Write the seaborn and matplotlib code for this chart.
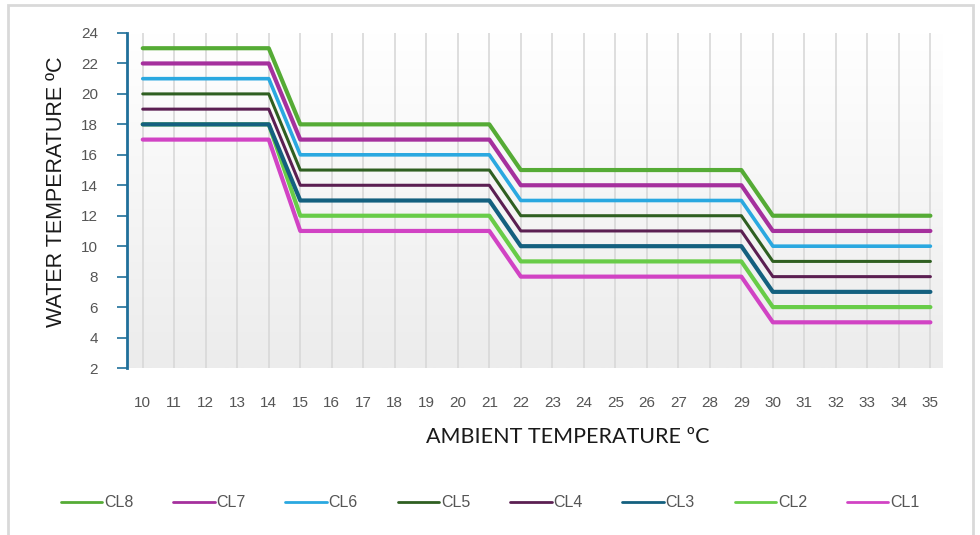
import numpy as np
import pandas as pd
import matplotlib
matplotlib.use("Agg")
import matplotlib.pyplot as plt
from matplotlib.patches import Rectangle
import seaborn as sns

ambient = [str(t) for t in range(10, 36)]
series_names = ["CL8", "CL7", "CL6", "CL5", "CL4", "CL3", "CL2", "CL1"]
# (value for 10-14, 15-21, 22-29, 30-35)
CL8 = [23] * 5 + [18] * 7 + [15] * 8 + [12] * 6
CL7 = [22] * 5 + [17] * 7 + [14] * 8 + [11] * 6
CL6 = [21] * 5 + [16] * 7 + [13] * 8 + [10] * 6
CL5 = [20] * 5 + [15] * 7 + [12] * 8 + [9] * 6
CL4 = [19] * 5 + [14] * 7 + [11] * 8 + [8] * 6
CL3 = [18] * 5 + [13] * 7 + [10] * 8 + [7] * 6
CL2 = [18] * 5 + [12] * 7 + [9] * 8 + [6] * 6
CL1 = [17] * 5 + [11] * 7 + [8] * 8 + [5] * 6
values = {"CL8": CL8, "CL7": CL7, "CL6": CL6, "CL5": CL5,
          "CL4": CL4, "CL3": CL3, "CL2": CL2, "CL1": CL1}
y_ticks = list(range(2, 25, 2))

colors = {"CL8": "#55ab35", "CL7": "#a5309d", "CL6": "#2aa8e0", "CL5": "#2f5f21",
          "CL4": "#5b1f52", "CL3": "#14607f", "CL2": "#68cc48", "CL1": "#d143c4"}
widths = {"CL8": 3.0, "CL7": 3.0, "CL6": 2.6, "CL5": 2.2, "CL4": 2.2,
          "CL3": 3.0, "CL2": 3.0, "CL1": 3.0}
zorders = {"CL8": 3, "CL7": 4, "CL6": 5, "CL5": 6, "CL4": 7, "CL3": 10, "CL2": 8, "CL1": 9}

sns.set_theme(style="white")
plt.rcParams["font.family"] = ["Liberation Sans", "DejaVu Sans"]

fig = plt.figure(figsize=(9.8, 5.35), dpi=100)
ax = fig.add_axes([127 / 980, 1 - 368 / 535, (943 - 127) / 980, (368 - 33) / 535])

# gradient background
grad = np.linspace(1, 0, 256).reshape(-1, 1)
ax.imshow(grad, extent=(-0.5, 25.4, 2, 24), aspect="auto",
          cmap=matplotlib.colors.LinearSegmentedColormap.from_list("g", ["#ececec", "#ffffff"]),
          zorder=0, origin="upper")

for i in range(len(ambient)):
    ax.axvline(i, color="#d8d8d8", lw=1.2, zorder=1)

for name in series_names:
    df = pd.DataFrame({"ambient": ambient, "water": values[name]})
    sns.lineplot(data=df, x="ambient", y="water", ax=ax, color=colors[name],
                 lw=widths[name], label=name, zorder=zorders[name], sort=False)

ax.set_xlim(-0.5, 25.4)
ax.set_ylim(2, 24)
ax.set_yticks(y_ticks)
ax.set_xticks(range(len(ambient)))
ax.set_xticklabels(ambient)

for s in ["top", "right", "bottom"]:
    ax.spines[s].set_visible(False)
ax.spines["left"].set_color("#1f6f9a")
ax.spines["left"].set_linewidth(2)

ax.tick_params(axis="y", which="major", left=True, length=7, width=1.2,
               color="#1f6f9a", pad=14, labelsize=11, labelcolor="#555555")
ax.tick_params(axis="x", bottom=False, pad=14, labelsize=11, labelcolor="#555555")

ax.set_xlabel("AMBIENT TEMPERATURE ºC", fontsize=15.5, color="#1a1a1a",
              family=["Lato", "DejaVu Sans"])
ax.xaxis.set_label_coords((568 - 127) / 816, -(437 - 368) / 335)
ax.xaxis.label.set_va("center")
ax.set_ylabel("WATER TEMPERATURE ºC", fontsize=15.5, color="#1a1a1a")
ax.yaxis.set_label_coords(-(127 - 57) / 816, (368 - 192) / 335)
ax.yaxis.label.set_va("center")

handles, labels = ax.get_legend_handles_labels()
if ax.get_legend() is not None:
    ax.get_legend().remove()
leg = fig.legend(handles, labels, loc="center", bbox_to_anchor=(490 / 980, 1 - 503 / 535),
                 ncol=8, frameon=False, fontsize=11.5, handlelength=2.6,
                 handletextpad=0.1, columnspacing=2.5, labelcolor="#555555")
for h in leg.get_lines():
    h.set_linewidth(2)

fig.add_artist(Rectangle((8 / 980, -0.02), (973 - 8) / 980, 1.02 - 5 / 535,
                         transform=fig.transFigure, fill=False,
                         edgecolor="#d9d9d9", lw=2))

fig.savefig("out.png", dpi=100)
